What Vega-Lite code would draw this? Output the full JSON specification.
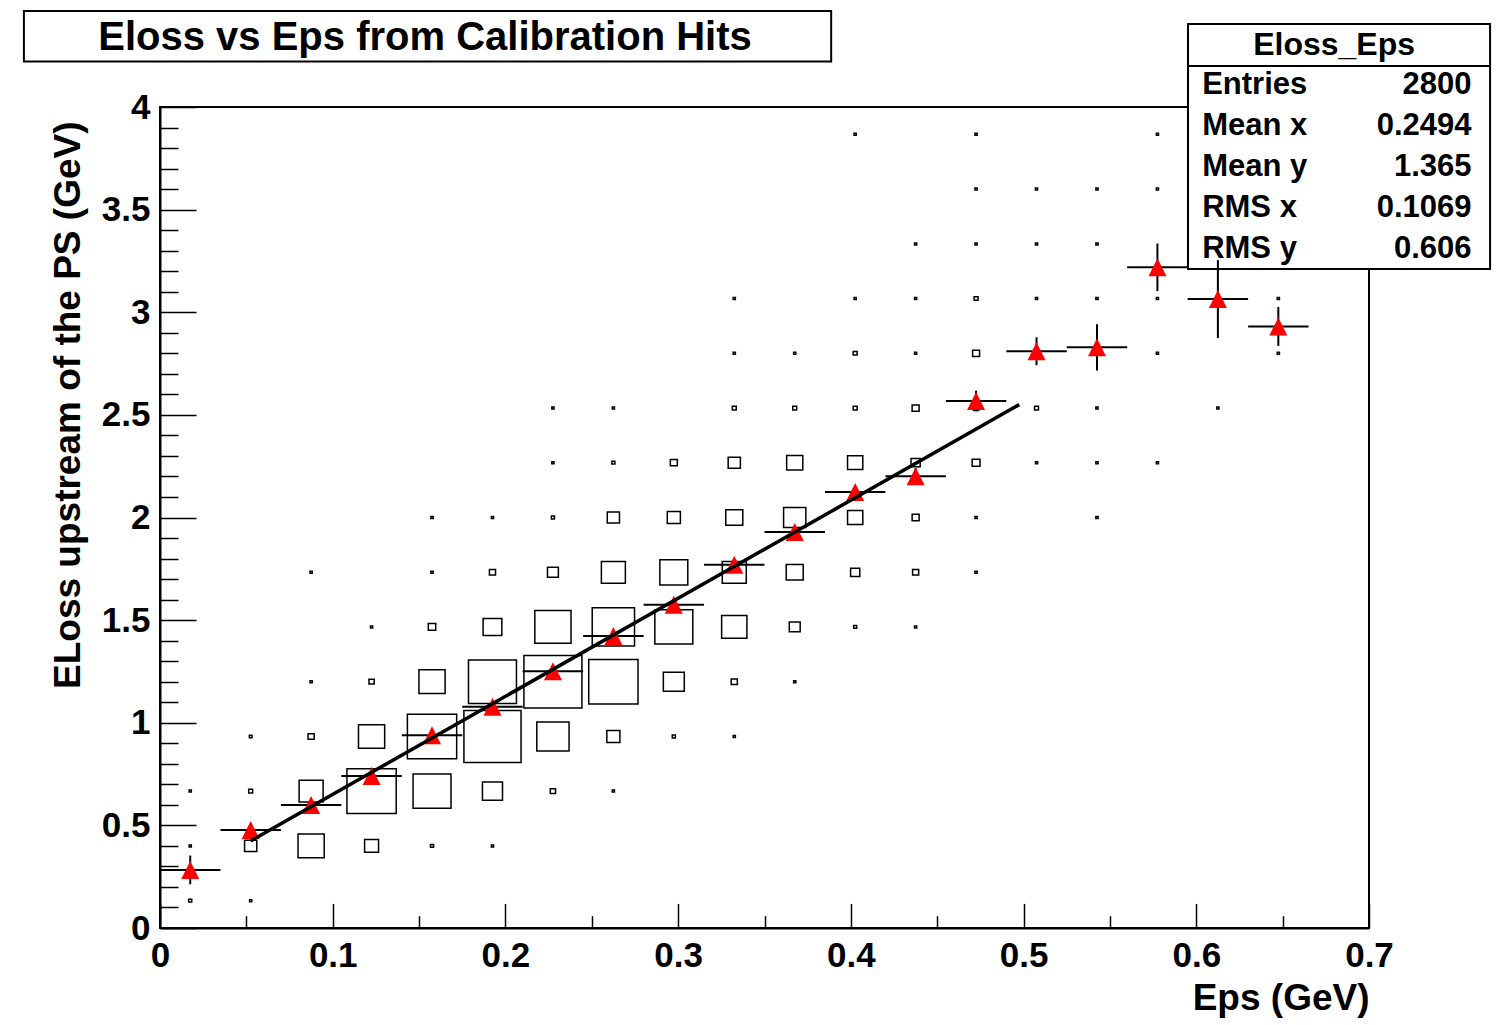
{
  "$schema": "https://vega.github.io/schema/vega-lite/v6.json",
  "width": 1209,
  "height": 821,
  "autosize": {"type": "none"},
  "padding": {"left": 160, "top": 107, "right": 134, "bottom": 97},
  "background": "white",
  "title": {
    "text": "Eloss vs Eps from Calibration Hits",
    "anchor": "middle",
    "frame": "group",
    "font": "Liberation Sans",
    "fontWeight": "bold",
    "fontSize": 40,
    "color": "black",
    "offset": 0,
    "dx": -339.5,
    "dy": 48
  },
  "datasets": {
    "cells": [
      {"eps": 0.0175, "eloss": 0.133, "count": 7}, {"eps": 0.0525, "eloss": 0.133, "count": 5},
      {"eps": 0.0175, "eloss": 0.4, "count": 5}, {"eps": 0.0525, "eloss": 0.4, "count": 28}, {"eps": 0.0875, "eloss": 0.4, "count": 60}, {"eps": 0.1225, "eloss": 0.4, "count": 32}, {"eps": 0.1575, "eloss": 0.4, "count": 7}, {"eps": 0.1925, "eloss": 0.4, "count": 5},
      {"eps": 0.0175, "eloss": 0.667, "count": 5}, {"eps": 0.0525, "eloss": 0.667, "count": 9}, {"eps": 0.0875, "eloss": 0.667, "count": 55}, {"eps": 0.1225, "eloss": 0.667, "count": 113}, {"eps": 0.1575, "eloss": 0.667, "count": 87}, {"eps": 0.1925, "eloss": 0.667, "count": 46}, {"eps": 0.2275, "eloss": 0.667, "count": 12}, {"eps": 0.2625, "eloss": 0.667, "count": 5},
      {"eps": 0.0525, "eloss": 0.933, "count": 6}, {"eps": 0.0875, "eloss": 0.933, "count": 14}, {"eps": 0.1225, "eloss": 0.933, "count": 60}, {"eps": 0.1575, "eloss": 0.933, "count": 113}, {"eps": 0.1925, "eloss": 0.933, "count": 131}, {"eps": 0.2275, "eloss": 0.933, "count": 74}, {"eps": 0.2625, "eloss": 0.933, "count": 30}, {"eps": 0.2975, "eloss": 0.933, "count": 7}, {"eps": 0.3325, "eloss": 0.933, "count": 5},
      {"eps": 0.0875, "eloss": 1.2, "count": 5}, {"eps": 0.1225, "eloss": 1.2, "count": 12}, {"eps": 0.1575, "eloss": 1.2, "count": 60}, {"eps": 0.1925, "eloss": 1.2, "count": 110}, {"eps": 0.2275, "eloss": 1.2, "count": 133}, {"eps": 0.2625, "eloss": 1.2, "count": 113}, {"eps": 0.2975, "eloss": 1.2, "count": 48}, {"eps": 0.3325, "eloss": 1.2, "count": 14}, {"eps": 0.3675, "eloss": 1.2, "count": 5},
      {"eps": 0.1225, "eloss": 1.467, "count": 5}, {"eps": 0.1575, "eloss": 1.467, "count": 17}, {"eps": 0.1925, "eloss": 1.467, "count": 43}, {"eps": 0.2275, "eloss": 1.467, "count": 83}, {"eps": 0.2625, "eloss": 1.467, "count": 97}, {"eps": 0.2975, "eloss": 1.467, "count": 87}, {"eps": 0.3325, "eloss": 1.467, "count": 58}, {"eps": 0.3675, "eloss": 1.467, "count": 25}, {"eps": 0.4025, "eloss": 1.467, "count": 7}, {"eps": 0.4375, "eloss": 1.467, "count": 5},
      {"eps": 0.0875, "eloss": 1.733, "count": 5}, {"eps": 0.1575, "eloss": 1.733, "count": 5}, {"eps": 0.1925, "eloss": 1.733, "count": 14}, {"eps": 0.2275, "eloss": 1.733, "count": 25}, {"eps": 0.2625, "eloss": 1.733, "count": 55}, {"eps": 0.2975, "eloss": 1.733, "count": 64}, {"eps": 0.3325, "eloss": 1.733, "count": 55}, {"eps": 0.3675, "eloss": 1.733, "count": 39}, {"eps": 0.4025, "eloss": 1.733, "count": 21}, {"eps": 0.4375, "eloss": 1.733, "count": 14}, {"eps": 0.4725, "eloss": 1.733, "count": 5},
      {"eps": 0.1575, "eloss": 2.0, "count": 5}, {"eps": 0.1925, "eloss": 2.0, "count": 5}, {"eps": 0.2275, "eloss": 2.0, "count": 7}, {"eps": 0.2625, "eloss": 2.0, "count": 28}, {"eps": 0.2975, "eloss": 2.0, "count": 30}, {"eps": 0.3325, "eloss": 2.0, "count": 39}, {"eps": 0.3675, "eloss": 2.0, "count": 51}, {"eps": 0.4025, "eloss": 2.0, "count": 35}, {"eps": 0.4375, "eloss": 2.0, "count": 16}, {"eps": 0.4725, "eloss": 2.0, "count": 5}, {"eps": 0.5425, "eloss": 2.0, "count": 5},
      {"eps": 0.2275, "eloss": 2.267, "count": 5}, {"eps": 0.2625, "eloss": 2.267, "count": 7}, {"eps": 0.2975, "eloss": 2.267, "count": 16}, {"eps": 0.3325, "eloss": 2.267, "count": 28}, {"eps": 0.3675, "eloss": 2.267, "count": 37}, {"eps": 0.4025, "eloss": 2.267, "count": 35}, {"eps": 0.4375, "eloss": 2.267, "count": 21}, {"eps": 0.4725, "eloss": 2.267, "count": 18}, {"eps": 0.5075, "eloss": 2.267, "count": 5}, {"eps": 0.5425, "eloss": 2.267, "count": 5}, {"eps": 0.5775, "eloss": 2.267, "count": 5},
      {"eps": 0.2275, "eloss": 2.533, "count": 5}, {"eps": 0.2625, "eloss": 2.533, "count": 5}, {"eps": 0.3325, "eloss": 2.533, "count": 9}, {"eps": 0.3675, "eloss": 2.533, "count": 9}, {"eps": 0.4025, "eloss": 2.533, "count": 9}, {"eps": 0.4375, "eloss": 2.533, "count": 16}, {"eps": 0.4725, "eloss": 2.533, "count": 12}, {"eps": 0.5075, "eloss": 2.533, "count": 9}, {"eps": 0.5425, "eloss": 2.533, "count": 5}, {"eps": 0.6125, "eloss": 2.533, "count": 5},
      {"eps": 0.3325, "eloss": 2.8, "count": 5}, {"eps": 0.3675, "eloss": 2.8, "count": 5}, {"eps": 0.4025, "eloss": 2.8, "count": 9}, {"eps": 0.4375, "eloss": 2.8, "count": 5}, {"eps": 0.4725, "eloss": 2.8, "count": 16}, {"eps": 0.5075, "eloss": 2.8, "count": 7}, {"eps": 0.5425, "eloss": 2.8, "count": 5}, {"eps": 0.5775, "eloss": 2.8, "count": 5}, {"eps": 0.6475, "eloss": 2.8, "count": 5},
      {"eps": 0.3325, "eloss": 3.067, "count": 5}, {"eps": 0.4025, "eloss": 3.067, "count": 5}, {"eps": 0.4375, "eloss": 3.067, "count": 5}, {"eps": 0.4725, "eloss": 3.067, "count": 9}, {"eps": 0.5075, "eloss": 3.067, "count": 5}, {"eps": 0.5425, "eloss": 3.067, "count": 5}, {"eps": 0.5775, "eloss": 3.067, "count": 5}, {"eps": 0.6125, "eloss": 3.067, "count": 5}, {"eps": 0.6475, "eloss": 3.067, "count": 5},
      {"eps": 0.4375, "eloss": 3.333, "count": 5}, {"eps": 0.4725, "eloss": 3.333, "count": 5}, {"eps": 0.5075, "eloss": 3.333, "count": 5}, {"eps": 0.5425, "eloss": 3.333, "count": 5},
      {"eps": 0.4725, "eloss": 3.6, "count": 5}, {"eps": 0.5075, "eloss": 3.6, "count": 5}, {"eps": 0.5425, "eloss": 3.6, "count": 5}, {"eps": 0.5775, "eloss": 3.6, "count": 5},
      {"eps": 0.4025, "eloss": 3.867, "count": 5}, {"eps": 0.4725, "eloss": 3.867, "count": 5}, {"eps": 0.5775, "eloss": 3.867, "count": 5}
    ],
    "profile": [
      {"eps": 0.0175, "eloss": 0.283, "ex": 0.0175, "ey": 0.07},
      {"eps": 0.0525, "eloss": 0.477, "ex": 0.0175, "ey": 0.02},
      {"eps": 0.0875, "eloss": 0.599, "ex": 0.0175, "ey": 0.02},
      {"eps": 0.1225, "eloss": 0.741, "ex": 0.0175, "ey": 0.02},
      {"eps": 0.1575, "eloss": 0.939, "ex": 0.0175, "ey": 0.02},
      {"eps": 0.1925, "eloss": 1.078, "ex": 0.0175, "ey": 0.02},
      {"eps": 0.2275, "eloss": 1.251, "ex": 0.0175, "ey": 0.02},
      {"eps": 0.2625, "eloss": 1.423, "ex": 0.0175, "ey": 0.02},
      {"eps": 0.2975, "eloss": 1.575, "ex": 0.0175, "ey": 0.025},
      {"eps": 0.3325, "eloss": 1.77, "ex": 0.0175, "ey": 0.025},
      {"eps": 0.3675, "eloss": 1.929, "ex": 0.0175, "ey": 0.03},
      {"eps": 0.4025, "eloss": 2.124, "ex": 0.0175, "ey": 0.03},
      {"eps": 0.4375, "eloss": 2.201, "ex": 0.0175, "ey": 0.04},
      {"eps": 0.4725, "eloss": 2.568, "ex": 0.0175, "ey": 0.05},
      {"eps": 0.5075, "eloss": 2.81, "ex": 0.0175, "ey": 0.068},
      {"eps": 0.5425, "eloss": 2.829, "ex": 0.0175, "ey": 0.113},
      {"eps": 0.5775, "eloss": 3.219, "ex": 0.0175, "ey": 0.116},
      {"eps": 0.6125, "eloss": 3.064, "ex": 0.0175, "ey": 0.19},
      {"eps": 0.6475, "eloss": 2.931, "ex": 0.0175, "ey": 0.095}
    ],
    "fit": [
      {"eps": 0.0525, "eloss": 0.424},
      {"eps": 0.4975, "eloss": 2.55}
    ],
    "stats": [
      {"stat": "Entries", "value": "2800"},
      {"stat": "Mean x", "value": "0.2494"},
      {"stat": "Mean y", "value": "1.365"},
      {"stat": "RMS x", "value": "0.1069"},
      {"stat": "RMS y", "value": "0.606"}
    ]
  },
  "resolve": {"scale": {"y": "independent"}},
  "layer": [
    {
      "layer": [
        {
          "data": {"values": [{}]},
          "mark": {"type": "rect", "fill": "white", "stroke": "black", "strokeWidth": 2},
          "encoding": {
            "x": {"datum": 0.5952, "type": "quantitative", "title": "Eps (GeV)"},
            "x2": {"datum": 0.7701},
            "y": {"datum": 4.4044, "type": "quantitative", "title": "ELoss upstream of the PS (GeV)"},
            "y2": {"datum": 3.2107}
          }
        },
        {
          "data": {"values": [{}]},
          "mark": {"type": "rect", "fillOpacity": 0, "stroke": "black", "strokeWidth": 2},
          "encoding": {
            "x": {"datum": -0.0788, "type": "quantitative", "title": "Eps (GeV)"},
            "x2": {"datum": 0.3886},
            "y": {"datum": 4.4677, "type": "quantitative", "title": "ELoss upstream of the PS (GeV)"},
            "y2": {"datum": 4.2217}
          }
        },
        {
          "data": {"name": "cells"},
          "mark": {"type": "point", "shape": "M-1,-0.906L1,-0.906L1,0.906L-1,0.906Z", "filled": false, "stroke": "black", "strokeWidth": 1.5, "opacity": 1},
          "encoding": {
            "x": {
              "field": "eps", "type": "quantitative",
              "scale": {"domain": [0, 0.7], "nice": false, "zero": false},
              "title": "Eps (GeV)",
              "axis": {
                "values": [0, 0.05, 0.1, 0.15, 0.2, 0.25, 0.3, 0.35, 0.4, 0.45, 0.5, 0.55, 0.6, 0.65, 0.7],
                "tickCount": 60,
                "format": "~g",
                "labelExpr": "abs(datum.value*10-round(datum.value*10))<1e-6 ? datum.label : ''",
                "tickSize": {"condition": {"test": "abs(datum.value*10-round(datum.value*10))<1e-6", "value": -24.6}, "value": -12.3},
                "labelPadding": 35,
                "labelOverlap": false,
                "labelFlush": false,
                "titleAnchor": "end",
                "titlePadding": -5
              }
            },
            "y": {
              "field": "eloss", "type": "quantitative",
              "scale": {"domain": [0, 4], "nice": false, "zero": false},
              "title": "ELoss upstream of the PS (GeV)",
              "axis": {
                "values": [0, 0.1, 0.2, 0.3, 0.4, 0.5, 0.6, 0.7, 0.8, 0.9, 1, 1.1, 1.2, 1.3, 1.4, 1.5, 1.6, 1.7, 1.8, 1.9, 2, 2.1, 2.2, 2.3, 2.4, 2.5, 2.6, 2.7, 2.8, 2.9, 3, 3.1, 3.2, 3.3, 3.4, 3.5, 3.6, 3.7, 3.8, 3.9, 4],
                "tickCount": 100,
                "format": "~g",
                "labelExpr": "abs(datum.value*2-round(datum.value*2))<1e-6 ? datum.label : ''",
                "tickSize": {"condition": {"test": "abs(datum.value*2-round(datum.value*2))<1e-6", "value": -36}, "value": -18},
                "labelPadding": 46,
                "labelOverlap": false,
                "labelFlush": false,
                "titleAnchor": "end",
                "titleY": 14,
                "titlePadding": 14
              }
            },
            "size": {
              "field": "count", "type": "quantitative",
              "scale": {"type": "pow", "exponent": 2, "domain": [0, 133], "range": [0, 3364]},
              "legend": null
            }
          }
        },
        {
          "data": {"name": "profile"},
          "mark": {"type": "errorbar", "color": "black", "thickness": 2, "rule": {"strokeWidth": 2}},
          "encoding": {
            "x": {"field": "eps", "type": "quantitative", "title": "Eps (GeV)"},
            "xError": {"field": "ex"},
            "y": {"field": "eloss", "type": "quantitative", "title": "ELoss upstream of the PS (GeV)"}
          }
        },
        {
          "data": {"name": "profile"},
          "mark": {"type": "errorbar", "color": "black", "thickness": 2, "rule": {"strokeWidth": 2}},
          "encoding": {
            "x": {"field": "eps", "type": "quantitative", "title": "Eps (GeV)"},
            "y": {"field": "eloss", "type": "quantitative", "title": "ELoss upstream of the PS (GeV)"},
            "yError": {"field": "ey"}
          }
        },
        {
          "data": {"name": "profile"},
          "mark": {"type": "point", "shape": "M0,-1L1,1L-1,1Z", "filled": true, "color": "#ff0000", "size": 324, "opacity": 1, "strokeWidth": 0},
          "encoding": {
            "x": {"field": "eps", "type": "quantitative", "title": "Eps (GeV)"},
            "y": {"field": "eloss", "type": "quantitative", "title": "ELoss upstream of the PS (GeV)"}
          }
        },
        {
          "data": {"name": "fit"},
          "mark": {"type": "line", "color": "black", "strokeWidth": 3.5},
          "encoding": {
            "x": {"field": "eps", "type": "quantitative", "title": "Eps (GeV)"},
            "y": {"field": "eloss", "type": "quantitative", "title": "ELoss upstream of the PS (GeV)"}
          }
        },
        {
          "data": {"values": [{}]},
          "mark": {"type": "rule", "color": "black", "strokeWidth": 2},
          "encoding": {
            "x": {"datum": 0.5952, "type": "quantitative", "title": "Eps (GeV)"},
            "x2": {"datum": 0.7701},
            "y": {"datum": 4.1997, "type": "quantitative", "title": "ELoss upstream of the PS (GeV)"}
          }
        },
        {
          "data": {"values": [{}]},
          "mark": {"type": "text", "text": "Eloss_Eps", "font": "Liberation Sans", "fontWeight": "bold", "fontSize": 32, "align": "center", "baseline": "middle", "color": "black"},
          "encoding": {
            "x": {"datum": 0.6798, "type": "quantitative", "title": "Eps (GeV)"},
            "y": {"datum": 4.302, "type": "quantitative", "title": "ELoss upstream of the PS (GeV)"}
          }
        }
      ]
    },
    {
      "data": {"name": "stats"},
      "layer": [
        {
          "mark": {"type": "text", "align": "left", "baseline": "middle", "font": "Liberation Sans", "fontWeight": "bold", "fontSize": 31, "color": "black"},
          "encoding": {
            "x": {"datum": 0.6034, "type": "quantitative", "scale": {"domain": [0, 0.7], "nice": false, "zero": false}, "title": "Eps (GeV)"},
            "y": {"field": "stat", "type": "ordinal", "sort": null, "scale": {"type": "point", "range": [-22.5, 142], "padding": 0}, "axis": null},
            "text": {"field": "stat"}
          }
        },
        {
          "mark": {"type": "text", "align": "right", "baseline": "middle", "font": "Liberation Sans", "fontWeight": "bold", "fontSize": 31, "color": "black"},
          "encoding": {
            "x": {"datum": 0.7594, "type": "quantitative", "title": "Eps (GeV)"},
            "y": {"field": "stat", "type": "ordinal", "sort": null, "axis": null},
            "text": {"field": "value"}
          }
        }
      ]
    }
  ],
  "config": {
    "font": "Liberation Sans",
    "view": {"stroke": "black", "strokeWidth": 2},
    "axis": {
      "grid": false,
      "domainColor": "black",
      "domainWidth": 2,
      "tickColor": "black",
      "tickWidth": 1.5,
      "labelFont": "Liberation Sans",
      "labelFontWeight": "bold",
      "labelFontSize": 35,
      "labelColor": "black",
      "titleFont": "Liberation Sans",
      "titleFontWeight": "bold",
      "titleFontSize": 37,
      "titleColor": "black"
    }
  }
}
